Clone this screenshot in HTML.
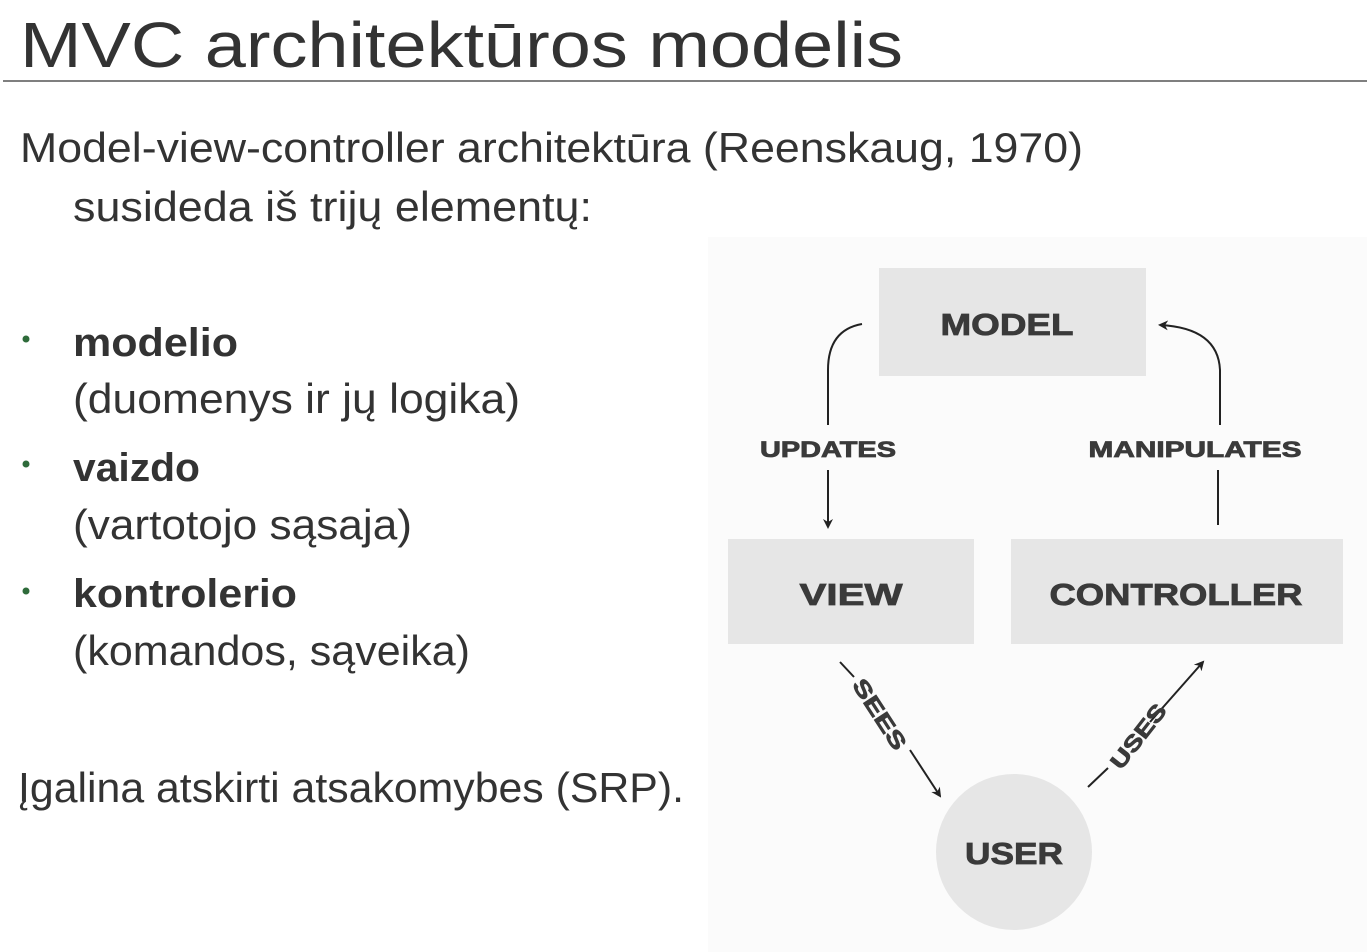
<!DOCTYPE html>
<html><head><meta charset="utf-8"><style>
html,body{margin:0;padding:0;background:#fff;width:1367px;height:952px;overflow:hidden}
svg{display:block}
.t{font-family:"Liberation Sans",sans-serif;fill:#333}
.d{font-family:"Liberation Sans",sans-serif;font-weight:bold;fill:#3a3a3a;stroke:#3a3a3a;stroke-width:0.8}
</style></head><body>
<svg width="1367" height="952" viewBox="0 0 1367 952" xmlns="http://www.w3.org/2000/svg">
<defs><marker id="ah" markerWidth="10" markerHeight="10" refX="8" refY="5" orient="auto" markerUnits="userSpaceOnUse">
<path d="M0,0 L10,5 L0,10 L3,5 z" fill="#222"/></marker></defs>
<text class="t" x="20" y="67" font-size="64" textLength="883" lengthAdjust="spacingAndGlyphs" fill="#2a2a2a">MVC architektūros modelis</text>
<line x1="3" y1="81" x2="1367" y2="81" stroke="#555" stroke-width="1.5"/>
<text class="t" x="20" y="162" font-size="42" textLength="1063" lengthAdjust="spacingAndGlyphs">Model-view-controller architektūra (Reenskaug, 1970)</text>
<text class="t" x="73" y="221" font-size="42" textLength="519" lengthAdjust="spacingAndGlyphs">susideda iš trijų elementų:</text>
<circle cx="26" cy="339" r="3.5" fill="#2e6b3a"/>
<circle cx="26" cy="464" r="3.5" fill="#2e6b3a"/>
<circle cx="26" cy="591" r="3.5" fill="#2e6b3a"/>
<text class="t" x="73" y="356" font-size="40" font-weight="bold" textLength="165" lengthAdjust="spacingAndGlyphs">modelio</text>
<text class="t" x="73" y="413" font-size="42" textLength="447" lengthAdjust="spacingAndGlyphs">(duomenys ir jų logika)</text>
<text class="t" x="73" y="481" font-size="40" font-weight="bold" textLength="127" lengthAdjust="spacingAndGlyphs">vaizdo</text>
<text class="t" x="73" y="539" font-size="42" textLength="339" lengthAdjust="spacingAndGlyphs">(vartotojo sąsaja)</text>
<text class="t" x="73" y="607" font-size="40" font-weight="bold" textLength="224" lengthAdjust="spacingAndGlyphs">kontrolerio</text>
<text class="t" x="73" y="665" font-size="42" textLength="397" lengthAdjust="spacingAndGlyphs">(komandos, sąveika)</text>
<text class="t" x="18" y="802" font-size="42" textLength="666" lengthAdjust="spacingAndGlyphs">Įgalina atskirti atsakomybes (SRP).</text>

<rect x="708" y="237" width="659" height="715" fill="#fbfbfb"/>
<rect x="879" y="268" width="267" height="108" fill="#e6e6e6"/>
<rect x="728" y="539" width="246" height="105" fill="#e6e6e6"/>
<rect x="1011" y="539" width="332" height="105" fill="#e6e6e6"/>
<circle cx="1014" cy="852" r="78" fill="#e6e6e6"/>
<text class="d" x="1007" y="335" font-size="31" text-anchor="middle" textLength="133" lengthAdjust="spacingAndGlyphs">MODEL</text>
<text class="d" x="851" y="605" font-size="31" text-anchor="middle" textLength="103" lengthAdjust="spacingAndGlyphs">VIEW</text>
<text class="d" x="1176" y="605" font-size="31" text-anchor="middle" textLength="253" lengthAdjust="spacingAndGlyphs">CONTROLLER</text>
<text class="d" x="1014" y="864" font-size="31" text-anchor="middle" textLength="98" lengthAdjust="spacingAndGlyphs">USER</text>
<text class="d" x="828" y="457" font-size="22" text-anchor="middle" textLength="136" lengthAdjust="spacingAndGlyphs">UPDATES</text>
<text class="d" x="1195" y="457" font-size="22" text-anchor="middle" textLength="213" lengthAdjust="spacingAndGlyphs">MANIPULATES</text>
<g stroke="#222" stroke-width="2" fill="none">
<path d="M862,324 Q828,330 828,370 L828,425"/>
<path d="M828,470 L828,527" marker-end="url(#ah)"/>
<path d="M1218,525 L1218,470"/>
<path d="M1220,425 L1220,370 Q1218,328 1160,325" marker-end="url(#ah)"/>
<path d="M840,662 L854,677"/>
<path d="M910,750 L940,796" marker-end="url(#ah)"/>
<path d="M1088,787 L1108,768"/>
<path d="M1150,722 L1203,662" marker-end="url(#ah)"/>
</g>
<text class="d" font-size="22" text-anchor="middle" transform="translate(880,714) rotate(57)" textLength="80" lengthAdjust="spacingAndGlyphs" dy="8">SEES</text>
<text class="d" font-size="22" text-anchor="middle" transform="translate(1138,736) rotate(-52)" textLength="76" lengthAdjust="spacingAndGlyphs" dy="8">USES</text>
</svg>
</body></html>
